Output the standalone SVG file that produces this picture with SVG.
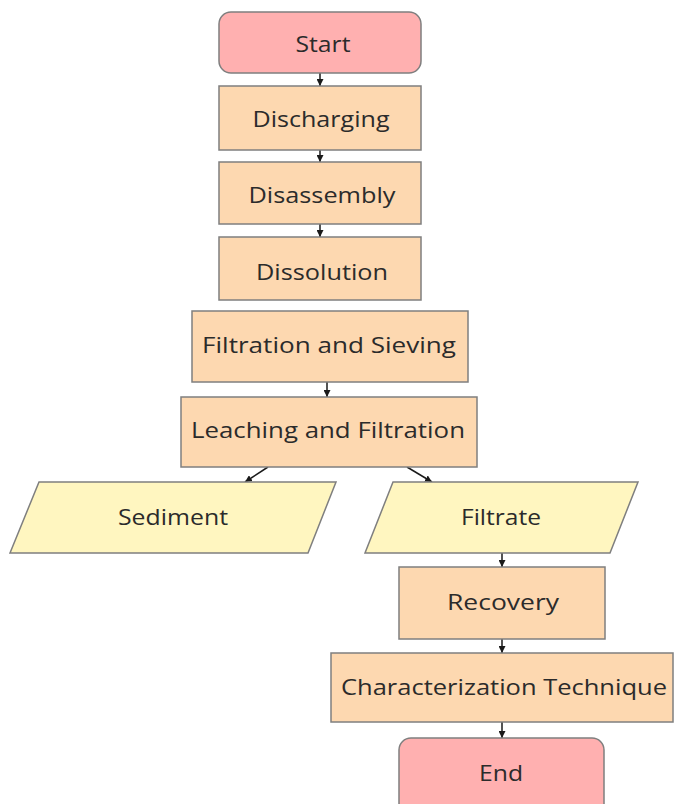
<svg xmlns="http://www.w3.org/2000/svg" width="674" height="804" viewBox="0 0 674 804">
<defs>
<marker id="ah" viewBox="0 0 10 10" refX="10" refY="5" markerWidth="7" markerHeight="7" markerUnits="userSpaceOnUse" orient="auto">
<path d="M0,0 L10,5 L0,10 z" fill="#1a1a1a"/>
</marker>
<style>
.term{fill:#FFB0B0;stroke:#7f7f7f;stroke-width:1.5}
.proc{fill:#FDD8B0;stroke:#7f7f7f;stroke-width:1.5}
.io{fill:#FFF6C0;stroke:#7f7f7f;stroke-width:1.5}
text{font-family:"Open Sans","DejaVu Sans",sans-serif;font-size:22px;fill:#2b2b2b;text-anchor:middle}
.c line{stroke:#1a1a1a;stroke-width:1.5;marker-end:url(#ah)}
</style>
</defs>
<rect width="674" height="804" fill="#ffffff"/>
<g class="c" id="connectors">
<line x1="320" y1="73" x2="320" y2="86"/>
<line x1="320" y1="150" x2="320" y2="162"/>
<line x1="320" y1="224" x2="320" y2="237"/>
<line x1="327" y1="382" x2="327" y2="397"/>
<line x1="268" y1="467" x2="245" y2="482"/>
<line x1="407" y1="467" x2="432" y2="482"/>
<line x1="502" y1="553" x2="502" y2="567"/>
<line x1="502" y1="639" x2="502" y2="653"/>
<line x1="502" y1="722" x2="502" y2="738"/>
</g>
<g id="start"><rect class="term" x="219" y="12" width="202" height="61" rx="12"/><text x="323" y="52" textLength="55" lengthAdjust="spacingAndGlyphs">Start</text></g>
<g id="discharging"><rect class="proc" x="219" y="86" width="202" height="64"/><text x="321" y="127" textLength="137" lengthAdjust="spacingAndGlyphs">Discharging</text></g>
<g id="disassembly"><rect class="proc" x="219" y="162" width="202" height="62"/><text x="322" y="203" textLength="147" lengthAdjust="spacingAndGlyphs">Disassembly</text></g>
<g id="dissolution"><rect class="proc" x="219" y="237" width="202" height="63"/><text x="322" y="280" textLength="132" lengthAdjust="spacingAndGlyphs">Dissolution</text></g>
<g id="filtration-sieving"><rect class="proc" x="192" y="311" width="276" height="71"/><text x="329" y="353" textLength="254" lengthAdjust="spacingAndGlyphs">Filtration and Sieving</text></g>
<g id="leaching-filtration"><rect class="proc" x="181" y="397" width="296" height="70"/><text x="328" y="438" textLength="274" lengthAdjust="spacingAndGlyphs">Leaching and Filtration</text></g>
<g id="sediment"><polygon class="io" points="39,482 336,482 308,553 10,553"/><text x="173" y="525" textLength="110" lengthAdjust="spacingAndGlyphs">Sediment</text></g>
<g id="filtrate"><polygon class="io" points="393,482 638,482 610,553 365,553"/><text x="501" y="525" textLength="80" lengthAdjust="spacingAndGlyphs">Filtrate</text></g>
<g id="recovery"><rect class="proc" x="399" y="567" width="206" height="72"/><text x="503" y="610" textLength="112" lengthAdjust="spacingAndGlyphs">Recovery</text></g>
<g id="characterization"><rect class="proc" x="331" y="653" width="342" height="69"/><text x="504" y="695" textLength="326" lengthAdjust="spacingAndGlyphs">Characterization Technique</text></g>
<g id="end"><rect class="term" x="399" y="738" width="205" height="80" rx="12"/><text x="501" y="781" textLength="44" lengthAdjust="spacingAndGlyphs">End</text></g>
</svg>
